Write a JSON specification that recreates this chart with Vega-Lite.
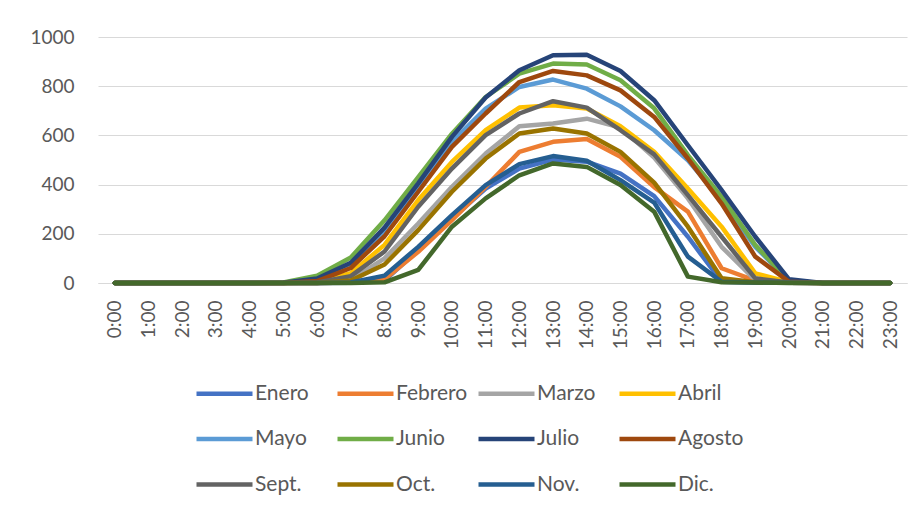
{
  "$schema": "https://vega.github.io/schema/vega-lite/v6.json",
  "autosize": {"type": "none"},
  "padding": {"left": 98, "top": 37, "right": 15, "bottom": 230},
  "width": 809,
  "height": 246,
  "config": {
    "font": "Lato",
    "view": {"stroke": null},
    "axis": {"labelFont": "Lato", "labelColor": "#595959", "labelFontSize": 19}
  },
  "data": {"values": [
    {"h":"0:00","m":"Enero","v":0},{"h":"1:00","m":"Enero","v":0},{"h":"2:00","m":"Enero","v":0},{"h":"3:00","m":"Enero","v":0},{"h":"4:00","m":"Enero","v":0},{"h":"5:00","m":"Enero","v":0},{"h":"6:00","m":"Enero","v":0},{"h":"7:00","m":"Enero","v":1},{"h":"8:00","m":"Enero","v":10},{"h":"9:00","m":"Enero","v":134},{"h":"10:00","m":"Enero","v":262},{"h":"11:00","m":"Enero","v":384},{"h":"12:00","m":"Enero","v":465},{"h":"13:00","m":"Enero","v":502},{"h":"14:00","m":"Enero","v":493},{"h":"15:00","m":"Enero","v":445},{"h":"16:00","m":"Enero","v":353},{"h":"17:00","m":"Enero","v":188},{"h":"18:00","m":"Enero","v":5},{"h":"19:00","m":"Enero","v":2},{"h":"20:00","m":"Enero","v":1},{"h":"21:00","m":"Enero","v":0},{"h":"22:00","m":"Enero","v":0},{"h":"23:00","m":"Enero","v":0},
    {"h":"0:00","m":"Febrero","v":0},{"h":"1:00","m":"Febrero","v":0},{"h":"2:00","m":"Febrero","v":0},{"h":"3:00","m":"Febrero","v":0},{"h":"4:00","m":"Febrero","v":0},{"h":"5:00","m":"Febrero","v":0},{"h":"6:00","m":"Febrero","v":0},{"h":"7:00","m":"Febrero","v":2},{"h":"8:00","m":"Febrero","v":15},{"h":"9:00","m":"Febrero","v":127},{"h":"10:00","m":"Febrero","v":256},{"h":"11:00","m":"Febrero","v":391},{"h":"12:00","m":"Febrero","v":533},{"h":"13:00","m":"Febrero","v":574},{"h":"14:00","m":"Febrero","v":585},{"h":"15:00","m":"Febrero","v":513},{"h":"16:00","m":"Febrero","v":390},{"h":"17:00","m":"Febrero","v":290},{"h":"18:00","m":"Febrero","v":60},{"h":"19:00","m":"Febrero","v":10},{"h":"20:00","m":"Febrero","v":1},{"h":"21:00","m":"Febrero","v":0},{"h":"22:00","m":"Febrero","v":0},{"h":"23:00","m":"Febrero","v":0},
    {"h":"0:00","m":"Marzo","v":0},{"h":"1:00","m":"Marzo","v":0},{"h":"2:00","m":"Marzo","v":0},{"h":"3:00","m":"Marzo","v":0},{"h":"4:00","m":"Marzo","v":0},{"h":"5:00","m":"Marzo","v":0},{"h":"6:00","m":"Marzo","v":0},{"h":"7:00","m":"Marzo","v":12},{"h":"8:00","m":"Marzo","v":100},{"h":"9:00","m":"Marzo","v":242},{"h":"10:00","m":"Marzo","v":391},{"h":"11:00","m":"Marzo","v":526},{"h":"12:00","m":"Marzo","v":637},{"h":"13:00","m":"Marzo","v":648},{"h":"14:00","m":"Marzo","v":668},{"h":"15:00","m":"Marzo","v":632},{"h":"16:00","m":"Marzo","v":510},{"h":"17:00","m":"Marzo","v":344},{"h":"18:00","m":"Marzo","v":147},{"h":"19:00","m":"Marzo","v":12},{"h":"20:00","m":"Marzo","v":2},{"h":"21:00","m":"Marzo","v":0},{"h":"22:00","m":"Marzo","v":0},{"h":"23:00","m":"Marzo","v":0},
    {"h":"0:00","m":"Abril","v":0},{"h":"1:00","m":"Abril","v":0},{"h":"2:00","m":"Abril","v":0},{"h":"3:00","m":"Abril","v":0},{"h":"4:00","m":"Abril","v":0},{"h":"5:00","m":"Abril","v":0},{"h":"6:00","m":"Abril","v":3},{"h":"7:00","m":"Abril","v":40},{"h":"8:00","m":"Abril","v":155},{"h":"9:00","m":"Abril","v":337},{"h":"10:00","m":"Abril","v":492},{"h":"11:00","m":"Abril","v":621},{"h":"12:00","m":"Abril","v":713},{"h":"13:00","m":"Abril","v":723},{"h":"14:00","m":"Abril","v":709},{"h":"15:00","m":"Abril","v":637},{"h":"16:00","m":"Abril","v":533},{"h":"17:00","m":"Abril","v":384},{"h":"18:00","m":"Abril","v":229},{"h":"19:00","m":"Abril","v":39},{"h":"20:00","m":"Abril","v":3},{"h":"21:00","m":"Abril","v":0},{"h":"22:00","m":"Abril","v":0},{"h":"23:00","m":"Abril","v":0},
    {"h":"0:00","m":"Mayo","v":0},{"h":"1:00","m":"Mayo","v":0},{"h":"2:00","m":"Mayo","v":0},{"h":"3:00","m":"Mayo","v":0},{"h":"4:00","m":"Mayo","v":0},{"h":"5:00","m":"Mayo","v":0},{"h":"6:00","m":"Mayo","v":12},{"h":"7:00","m":"Mayo","v":70},{"h":"8:00","m":"Mayo","v":215},{"h":"9:00","m":"Mayo","v":390},{"h":"10:00","m":"Mayo","v":574},{"h":"11:00","m":"Mayo","v":709},{"h":"12:00","m":"Mayo","v":797},{"h":"13:00","m":"Mayo","v":827},{"h":"14:00","m":"Mayo","v":790},{"h":"15:00","m":"Mayo","v":718},{"h":"16:00","m":"Mayo","v":621},{"h":"17:00","m":"Mayo","v":499},{"h":"18:00","m":"Mayo","v":337},{"h":"19:00","m":"Mayo","v":147},{"h":"20:00","m":"Mayo","v":8},{"h":"21:00","m":"Mayo","v":0},{"h":"22:00","m":"Mayo","v":0},{"h":"23:00","m":"Mayo","v":0},
    {"h":"0:00","m":"Junio","v":0},{"h":"1:00","m":"Junio","v":0},{"h":"2:00","m":"Junio","v":0},{"h":"3:00","m":"Junio","v":0},{"h":"4:00","m":"Junio","v":0},{"h":"5:00","m":"Junio","v":2},{"h":"6:00","m":"Junio","v":30},{"h":"7:00","m":"Junio","v":104},{"h":"8:00","m":"Junio","v":255},{"h":"9:00","m":"Junio","v":430},{"h":"10:00","m":"Junio","v":607},{"h":"11:00","m":"Junio","v":756},{"h":"12:00","m":"Junio","v":851},{"h":"13:00","m":"Junio","v":892},{"h":"14:00","m":"Junio","v":888},{"h":"15:00","m":"Junio","v":824},{"h":"16:00","m":"Junio","v":710},{"h":"17:00","m":"Junio","v":520},{"h":"18:00","m":"Junio","v":350},{"h":"19:00","m":"Junio","v":154},{"h":"20:00","m":"Junio","v":8},{"h":"21:00","m":"Junio","v":0},{"h":"22:00","m":"Junio","v":0},{"h":"23:00","m":"Junio","v":0},
    {"h":"0:00","m":"Julio","v":0},{"h":"1:00","m":"Julio","v":0},{"h":"2:00","m":"Julio","v":0},{"h":"3:00","m":"Julio","v":0},{"h":"4:00","m":"Julio","v":0},{"h":"5:00","m":"Julio","v":1},{"h":"6:00","m":"Julio","v":18},{"h":"7:00","m":"Julio","v":82},{"h":"8:00","m":"Julio","v":225},{"h":"9:00","m":"Julio","v":405},{"h":"10:00","m":"Julio","v":594},{"h":"11:00","m":"Julio","v":754},{"h":"12:00","m":"Julio","v":865},{"h":"13:00","m":"Julio","v":926},{"h":"14:00","m":"Julio","v":928},{"h":"15:00","m":"Julio","v":862},{"h":"16:00","m":"Julio","v":743},{"h":"17:00","m":"Julio","v":560},{"h":"18:00","m":"Julio","v":378},{"h":"19:00","m":"Julio","v":188},{"h":"20:00","m":"Julio","v":15},{"h":"21:00","m":"Julio","v":0},{"h":"22:00","m":"Julio","v":0},{"h":"23:00","m":"Julio","v":0},
    {"h":"0:00","m":"Agosto","v":0},{"h":"1:00","m":"Agosto","v":0},{"h":"2:00","m":"Agosto","v":0},{"h":"3:00","m":"Agosto","v":0},{"h":"4:00","m":"Agosto","v":0},{"h":"5:00","m":"Agosto","v":0},{"h":"6:00","m":"Agosto","v":8},{"h":"7:00","m":"Agosto","v":61},{"h":"8:00","m":"Agosto","v":190},{"h":"9:00","m":"Agosto","v":371},{"h":"10:00","m":"Agosto","v":553},{"h":"11:00","m":"Agosto","v":689},{"h":"12:00","m":"Agosto","v":817},{"h":"13:00","m":"Agosto","v":862},{"h":"14:00","m":"Agosto","v":844},{"h":"15:00","m":"Agosto","v":783},{"h":"16:00","m":"Agosto","v":675},{"h":"17:00","m":"Agosto","v":506},{"h":"18:00","m":"Agosto","v":323},{"h":"19:00","m":"Agosto","v":107},{"h":"20:00","m":"Agosto","v":5},{"h":"21:00","m":"Agosto","v":0},{"h":"22:00","m":"Agosto","v":0},{"h":"23:00","m":"Agosto","v":0},
    {"h":"0:00","m":"Sept.","v":0},{"h":"1:00","m":"Sept.","v":0},{"h":"2:00","m":"Sept.","v":0},{"h":"3:00","m":"Sept.","v":0},{"h":"4:00","m":"Sept.","v":0},{"h":"5:00","m":"Sept.","v":0},{"h":"6:00","m":"Sept.","v":2},{"h":"7:00","m":"Sept.","v":28},{"h":"8:00","m":"Sept.","v":128},{"h":"9:00","m":"Sept.","v":310},{"h":"10:00","m":"Sept.","v":465},{"h":"11:00","m":"Sept.","v":601},{"h":"12:00","m":"Sept.","v":689},{"h":"13:00","m":"Sept.","v":739},{"h":"14:00","m":"Sept.","v":713},{"h":"15:00","m":"Sept.","v":621},{"h":"16:00","m":"Sept.","v":523},{"h":"17:00","m":"Sept.","v":357},{"h":"18:00","m":"Sept.","v":188},{"h":"19:00","m":"Sept.","v":19},{"h":"20:00","m":"Sept.","v":2},{"h":"21:00","m":"Sept.","v":0},{"h":"22:00","m":"Sept.","v":0},{"h":"23:00","m":"Sept.","v":0},
    {"h":"0:00","m":"Oct.","v":0},{"h":"1:00","m":"Oct.","v":0},{"h":"2:00","m":"Oct.","v":0},{"h":"3:00","m":"Oct.","v":0},{"h":"4:00","m":"Oct.","v":0},{"h":"5:00","m":"Oct.","v":0},{"h":"6:00","m":"Oct.","v":0},{"h":"7:00","m":"Oct.","v":10},{"h":"8:00","m":"Oct.","v":75},{"h":"9:00","m":"Oct.","v":215},{"h":"10:00","m":"Oct.","v":371},{"h":"11:00","m":"Oct.","v":506},{"h":"12:00","m":"Oct.","v":608},{"h":"13:00","m":"Oct.","v":628},{"h":"14:00","m":"Oct.","v":608},{"h":"15:00","m":"Oct.","v":533},{"h":"16:00","m":"Oct.","v":408},{"h":"17:00","m":"Oct.","v":229},{"h":"18:00","m":"Oct.","v":19},{"h":"19:00","m":"Oct.","v":3},{"h":"20:00","m":"Oct.","v":1},{"h":"21:00","m":"Oct.","v":0},{"h":"22:00","m":"Oct.","v":0},{"h":"23:00","m":"Oct.","v":0},
    {"h":"0:00","m":"Nov.","v":0},{"h":"1:00","m":"Nov.","v":0},{"h":"2:00","m":"Nov.","v":0},{"h":"3:00","m":"Nov.","v":0},{"h":"4:00","m":"Nov.","v":0},{"h":"5:00","m":"Nov.","v":0},{"h":"6:00","m":"Nov.","v":0},{"h":"7:00","m":"Nov.","v":2},{"h":"8:00","m":"Nov.","v":30},{"h":"9:00","m":"Nov.","v":147},{"h":"10:00","m":"Nov.","v":276},{"h":"11:00","m":"Nov.","v":398},{"h":"12:00","m":"Nov.","v":483},{"h":"13:00","m":"Nov.","v":516},{"h":"14:00","m":"Nov.","v":497},{"h":"15:00","m":"Nov.","v":418},{"h":"16:00","m":"Nov.","v":327},{"h":"17:00","m":"Nov.","v":107},{"h":"18:00","m":"Nov.","v":5},{"h":"19:00","m":"Nov.","v":2},{"h":"20:00","m":"Nov.","v":1},{"h":"21:00","m":"Nov.","v":0},{"h":"22:00","m":"Nov.","v":0},{"h":"23:00","m":"Nov.","v":0},
    {"h":"0:00","m":"Dic.","v":0},{"h":"1:00","m":"Dic.","v":0},{"h":"2:00","m":"Dic.","v":0},{"h":"3:00","m":"Dic.","v":0},{"h":"4:00","m":"Dic.","v":0},{"h":"5:00","m":"Dic.","v":0},{"h":"6:00","m":"Dic.","v":0},{"h":"7:00","m":"Dic.","v":0},{"h":"8:00","m":"Dic.","v":3},{"h":"9:00","m":"Dic.","v":53},{"h":"10:00","m":"Dic.","v":229},{"h":"11:00","m":"Dic.","v":344},{"h":"12:00","m":"Dic.","v":438},{"h":"13:00","m":"Dic.","v":486},{"h":"14:00","m":"Dic.","v":472},{"h":"15:00","m":"Dic.","v":398},{"h":"16:00","m":"Dic.","v":290},{"h":"17:00","m":"Dic.","v":26},{"h":"18:00","m":"Dic.","v":3},{"h":"19:00","m":"Dic.","v":2},{"h":"20:00","m":"Dic.","v":0},{"h":"21:00","m":"Dic.","v":0},{"h":"22:00","m":"Dic.","v":0},{"h":"23:00","m":"Dic.","v":0}
  ]},
  "mark": {"type": "line", "strokeWidth": 4.5, "strokeCap": "round", "strokeJoin": "round"},
  "encoding": {
    "x": {
      "field": "h", "type": "ordinal", "sort": null,
      "scale": {"type": "point", "padding": 0.5},
      "axis": {"title": null, "labelAngle": -90, "labelPadding": 17, "ticks": false, "domainColor": "#D9D9D9", "domainWidth": 1, "grid": false}
    },
    "y": {
      "field": "v", "type": "quantitative",
      "scale": {"domain": [0, 1000], "nice": false},
      "axis": {"title": null, "values": [0, 200, 400, 600, 800, 1000], "format": "d", "domain": false, "ticks": false, "labelPadding": 24, "gridColor": "#D9D9D9", "gridWidth": 1}
    },
    "color": {
      "field": "m", "type": "nominal",
      "scale": {
        "domain": ["Enero","Febrero","Marzo","Abril","Mayo","Junio","Julio","Agosto","Sept.","Oct.","Nov.","Dic."],
        "range": ["#4472C4","#ED7D31","#A5A5A5","#FFC000","#5B9BD5","#70AD47","#264478","#9E480E","#636363","#997300","#255E91","#43682B"]
      },
      "legend": {
        "title": null, "orient": "none", "legendX": 96, "legendY": 326,
        "direction": "horizontal", "columns": 4, "gridAlign": "all",
        "symbolType": "stroke", "symbolSize": 3136, "symbolStrokeWidth": 4.5,
        "labelFont": "Lato", "labelFontSize": 21, "labelColor": "#595959", "labelOffset": 0,
        "columnPadding": 1, "rowPadding": 4.5
      }
    }
  }
}
